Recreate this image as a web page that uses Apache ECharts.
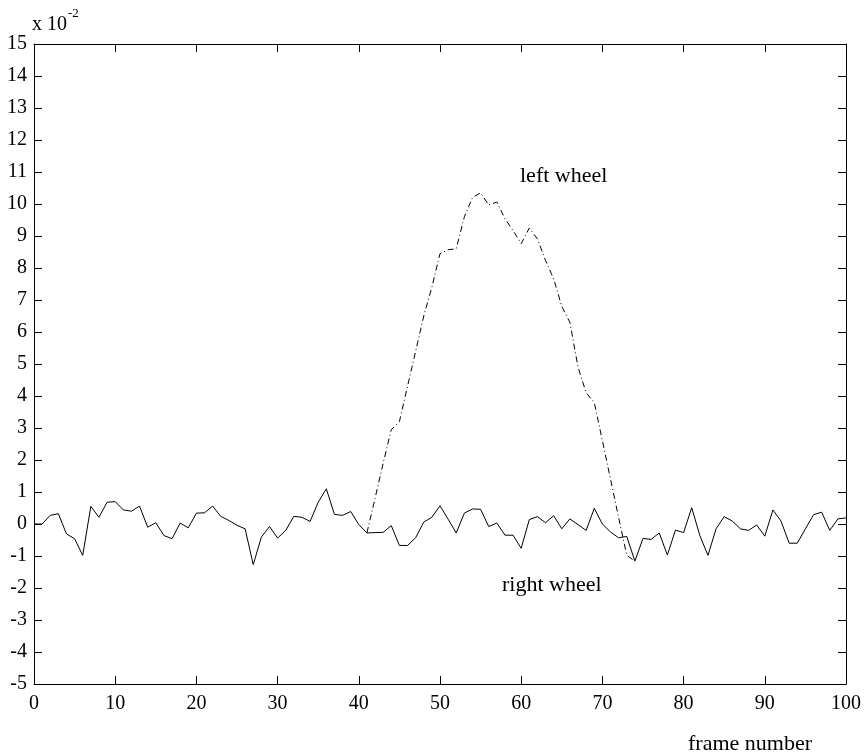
<!DOCTYPE html>
<html>
<head>
<meta charset="utf-8">
<script src="https://cdn.jsdelivr.net/npm/echarts@6/dist/echarts.min.js"></script>
<style>
  html, body { margin: 0; padding: 0; background: #fff; }
  #chart { width: 865px; height: 753px; }
</style>
</head>
<body>
<div id="chart"></div>
<script>
// frame numbers 0..100
const frames = [];
for (let i = 0; i <= 100; i++) frames.push(i);

// right wheel (x 10^-2), one value per frame
const rightWheel = [
    0.00, 0.00, 0.27, 0.32, -0.31, -0.46, -0.98, 0.55, 0.21, 0.68,
    0.70, 0.44, 0.40, 0.56, -0.10, 0.04, -0.36, -0.46, 0.03, -0.12,
    0.34, 0.35, 0.56, 0.24, 0.11, -0.04, -0.15, -1.27, -0.41, -0.08,
    -0.44, -0.20, 0.24, 0.21, 0.08, 0.68, 1.10, 0.30, 0.27, 0.39,
    -0.02, -0.28, -0.27, -0.26, -0.05, -0.67, -0.67, -0.43, 0.06, 0.21,
    0.57, 0.15, -0.28, 0.34, 0.47, 0.46, -0.08, 0.03, -0.35, -0.35,
    -0.76, 0.14, 0.23, 0.04, 0.26, -0.15, 0.16, -0.02, -0.20, 0.49,
    0.00, -0.25, -0.43, -0.39, -1.16, -0.45, -0.48, -0.28, -0.97, -0.19,
    -0.27, 0.51, -0.36, -0.98, -0.15, 0.23, 0.09, -0.15, -0.20, -0.03,
    -0.38, 0.44, 0.09, -0.60, -0.60, -0.15, 0.29, 0.37, -0.20, 0.16,
    0.19
];

// left wheel (x 10^-2), only where it leaves the right wheel
const leftStart = 41;
const leftWheel = [
    -0.28, 0.80, 1.90, 2.95, 3.20, 4.30, 5.40, 6.50, 7.40, 8.45,
    8.57, 8.60, 9.60, 10.20, 10.35, 9.97, 10.06, 9.54, 9.17, 8.76,
    9.25, 8.91, 8.23, 7.66, 6.80, 6.30, 4.90, 4.10, 3.80, 2.60,
    1.40, 0.20, -0.98, -1.16
];

const xTicks = { min: 0, max: 100, interval: 10 };
const yTicks = { min: -5, max: 15, interval: 1 };

const rightData = frames.map((f, i) => [f, rightWheel[i]]);
const leftData = leftWheel.map((v, i) => [leftStart + i, v]);

const font = 'Liberation Serif, Times New Roman, serif';
const chart = echarts.init(document.getElementById('chart'));

function xAxis(pos, showLabel) {
    return {
        type: 'value',
        position: pos,
        min: xTicks.min, max: xTicks.max, interval: xTicks.interval,
        axisLine: { show: true, onZero: false, lineStyle: { color: '#000', width: 1 } },
        axisTick: { show: true, inside: true, length: 8, lineStyle: { color: '#000' } },
        axisLabel: { show: showLabel, color: '#000', fontFamily: font, fontSize: 20, margin: 10 },
        splitLine: { show: false }
    };
}

function yAxis(pos, showLabel) {
    return {
        type: 'value',
        position: pos,
        min: yTicks.min, max: yTicks.max, interval: yTicks.interval,
        axisLine: { show: true, onZero: false, lineStyle: { color: '#000', width: 1 } },
        axisTick: { show: true, inside: true, length: 8, lineStyle: { color: '#000' } },
        axisLabel: { show: showLabel, color: '#000', fontFamily: font, fontSize: 20, margin: 7 },
        splitLine: { show: false }
    };
}

const option = {
    animation: false,
    backgroundColor: '#fff',
    grid: { left: 34, top: 44, width: 812, height: 640, containLabel: false },
    xAxis: [xAxis('bottom', true), xAxis('top', false)],
    yAxis: [yAxis('left', true), yAxis('right', false)],
    series: [
        {
            name: 'right wheel',
            type: 'line',
            data: rightData,
            showSymbol: false,
            symbol: 'none',
            lineStyle: { color: '#000', width: 1 }
        },
        {
            name: 'left wheel',
            type: 'line',
            data: leftData,
            showSymbol: false,
            symbol: 'none',
            lineStyle: { color: '#000', width: 1, type: [6, 3, 1, 3] }
        }
    ],
    graphic: [
        // exponent label above the y axis
        { type: 'text', left: 32, top: 15, style: { text: 'x 10', font: '20px ' + font, fill: '#000' } },
        { type: 'text', left: 68, top: 7, style: { text: '-2', font: '13px ' + font, fill: '#000' } },
        // curve annotations
        { type: 'text', left: 520, top: 165, style: { text: 'left wheel', font: '22px ' + font, fill: '#000' } },
        { type: 'text', left: 502, top: 574, style: { text: 'right wheel', font: '22px ' + font, fill: '#000' } },
        // x axis title
        { type: 'text', left: 688, top: 733, style: { text: 'frame number', font: '22px ' + font, fill: '#000' } }
    ]
};

option && chart.setOption(option);
</script>
</body>
</html>
